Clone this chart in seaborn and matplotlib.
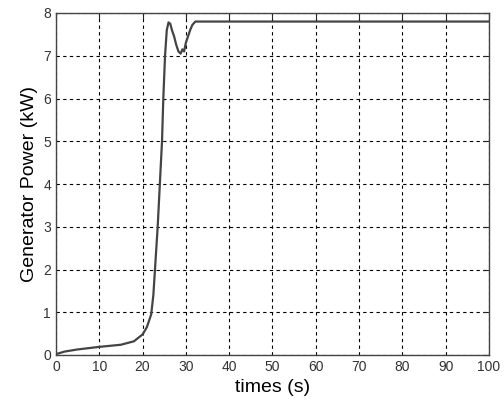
import matplotlib
matplotlib.use("Agg")
import matplotlib.pyplot as plt
import seaborn as sns
import pandas as pd

# Datos
tiempos = [0, 2, 5, 10, 15, 18, 20, 21, 22, 22.5, 23, 23.5, 24, 24.5, 24.8,
           25.2, 25.6, 26.0, 26.4, 26.8, 27.3, 27.8, 28.3, 28.8, 29.2, 29.6,
           30.0, 30.5, 31.0, 31.5, 32.2, 35, 50, 100]
potencia = [0.02, 0.08, 0.13, 0.19, 0.24, 0.32, 0.48, 0.65, 0.95, 1.4, 2.2,
            3.0, 4.0, 5.0, 6.0, 7.0, 7.6, 7.78, 7.75, 7.6, 7.45, 7.25, 7.1,
            7.05, 7.15, 7.1, 7.3, 7.45, 7.6, 7.72, 7.8, 7.8, 7.8, 7.8]
x_ticks = [0, 10, 20, 30, 40, 50, 60, 70, 80, 90, 100]
y_ticks = [0, 1, 2, 3, 4, 5, 6, 7, 8]

df = pd.DataFrame({'t': tiempos, 'P': potencia})

sns.set_style("white")
plt.rcParams['font.family'] = ['Liberation Sans', 'DejaVu Sans']

fig = plt.figure(figsize=(5.04, 4.0), dpi=100)
ax = fig.add_axes([0.111, 0.1125, 0.859, 0.855])

sns.lineplot(data=df, x='t', y='P', ax=ax, color='#444444', linewidth=1.6)

ax.set_xlim(0, 100)
ax.set_ylim(0, 8)
ax.set_xticks(x_ticks)
ax.set_yticks(y_ticks)
ax.grid(True, linestyle=(0, (3, 3)), color='black', linewidth=0.8)
ax.tick_params(direction='in', length=4, labelsize=10, labelcolor='#333333',
               top=True, right=True)
for s in ax.spines.values():
    s.set_color('#444444')
    s.set_linewidth(1.0)

ax.set_xlabel('times (s)', fontsize=14, color='black')
ax.set_ylabel('Generator Power (kW)', fontsize=14, color='black')

fig.savefig('out.png', dpi=100)
